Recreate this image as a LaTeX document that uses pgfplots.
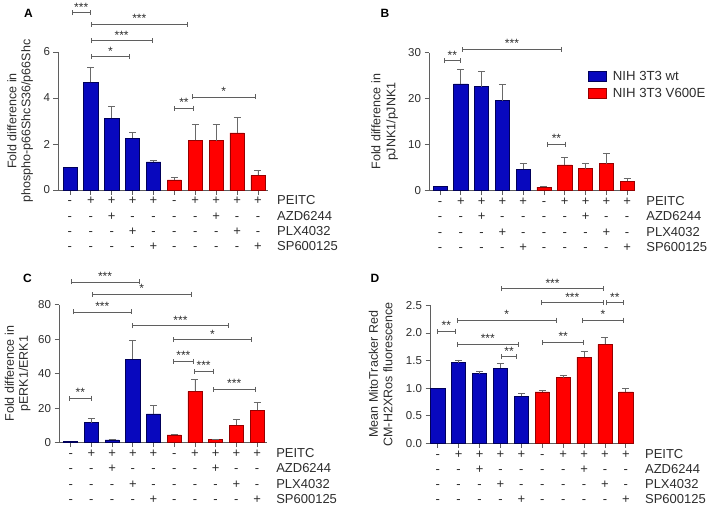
\documentclass[border=0pt]{standalone}
\usepackage{pgfplots}
\pgfplotsset{compat=1.18}
\usepackage{fontspec}
\setmainfont{Liberation Sans}
\usetikzlibrary{arrows.meta}
\definecolor{cblue}{RGB}{8,8,190}
\definecolor{cbluedk}{RGB}{0,0,90}
\definecolor{cred}{RGB}{255,0,0}
\definecolor{creddk}{RGB}{150,0,0}
\definecolor{axgray}{RGB}{95,95,95}
\definecolor{txtgray}{RGB}{45,45,45}
\definecolor{ebgray}{RGB}{105,105,105}
\tikzset{
  brk/.style={axgray, line width=0.7pt, arrows={Bar[width=5pt]-Bar[width=5pt]}},
  star/.style={anchor=base, inner sep=0pt, yshift=1.5pt, font=\fontsize{12}{14}\selectfont, text=txtgray},
  sg/.style={anchor=north, inner sep=0pt, font=\fontsize{13}{15.2}\selectfont, text=txtgray},
}
\newcommand\br[4]{\draw[brk] (axis cs:#1,#3) -- node[star]{#4} (axis cs:#2,#3);}
\pgfplotsset{
  panel/.style={
    scale only axis, height=138pt, ymin=0, clip=false,
    axis lines=left, axis line style={-, axgray, line width=0.8pt},
    tick style={axgray, line width=0.8pt}, tick align=outside,
    major tick length=4.5pt,
    xtick={0,1,2,3,4,5,6,7,8,9}, xticklabels={},
    /pgf/number format/assume math mode=true,
    yticklabel style={font=\fontsize{11.5}{13}\selectfont, text=txtgray},
    ylabel style={align=center, inner sep=0pt, anchor=south, text=txtgray},
    after end axis/.code={
      \foreach \i/\sa/\sb/\sc/\sd in {0/-/-/-/-,1/+/-/-/-,2/+/+/-/-,3/+/-/+/-,4/+/-/-/+,5/-/-/-/-,6/+/-/-/-,7/+/+/-/-,8/+/-/+/-,9/+/-/-/+}{
        \node[sg] at ([yshift=-4.1pt]axis cs:\i,0) {\begin{tabular}{@{}c@{}}\sa\\\sb\\\sc\\\sd\end{tabular}};
      }
      \node[sg, anchor=north west] at ([xshift=19pt,yshift=-4.1pt]axis cs:9,0) {\begin{tabular}{@{}l@{}}PEITC\\AZD6244\\PLX4032\\SP600125\end{tabular}};
    },
  },
  bluebar/.style={ybar, bar width=0.68, bar shift=0pt, fill=cblue, draw=cbluedk, line width=0.6pt},
  redbar/.style={ybar, bar width=0.68, bar shift=0pt, fill=cred, draw=creddk, line width=0.6pt},
  eb/.style={error bars/.cd, y dir=plus, y explicit,
    error bar style={ebgray, line width=0.8pt},
    error mark options={rotate=90, mark size=3.5pt, ebgray, line width=0.8pt}},
}
\begin{document}
\begin{tikzpicture}[x=1pt,y=1pt]
\useasboundingbox (0,0) rectangle (709,504);
% ---------------- A ----------------
\begin{axis}[panel, at={(58pt,314pt)}, anchor=south west, width=210pt,
  xmin=-0.57, xmax=9.48, ymax=6, ytick={0,2,4,6},
  ylabel={Fold difference in\\phospho-p66ShcS36/p66Shc},
  ylabel style={at={(axis description cs:-0.118,0.5)}, font=\fontsize{12.5}{14}\selectfont}]
\addplot[bluebar] coordinates {(0,1.00)};
\addplot[bluebar, eb] table[x=x, y=y, y error=e] {
x y e
1 4.68 0.67
2 3.13 0.51
3 2.26 0.24
4 1.22 0.08
};
\addplot[redbar, eb] table[x=x, y=y, y error=e] {
x y e
5 0.44 0.11
6 2.16 0.69
7 2.14 0.71
8 2.48 0.68
9 0.64 0.21
};
\br{0.08}{1}{7.71}{***}
\br{1}{5.64}{7.2}{***}
\br{1}{3.95}{6.49}{***}
\br{1.02}{2.87}{5.8}{*}
\br{4.99}{5.93}{3.56}{**}
\br{5.82}{8.9}{4.05}{*}
\end{axis}
% ---------------- B ----------------
\begin{axis}[panel, at={(429pt,313.3pt)}, anchor=south west, width=205pt,
  xmin=-0.53, xmax=9.33, ymax=30, ytick={0,10,20,30},
  ylabel={Fold difference in\\pJNK1/pJNK1},
  ylabel style={at={(axis description cs:-0.151,0.5)}, font=\fontsize{12.5}{15}\selectfont}]
\addplot[bluebar] coordinates {(0,1.0)};
\addplot[bluebar, eb] table[x=x, y=y, y error=e] {
x y e
1 23.2 3.1
2 22.6 3.4
3 19.6 3.5
4 4.7 1.2
};
\addplot[redbar, eb] table[x=x, y=y, y error=e] {
x y e
5 0.8 0.15
6 5.6 1.7
7 4.8 1.1
8 5.9 2.3
9 2.0 0.6
};
\br{0.18}{1.01}{28.3}{**}
\br{1.07}{5.85}{30.7}{***}
\br{5.14}{6.06}{10.1}{**}
\end{axis}
% ---------------- C ----------------
\begin{axis}[panel, at={(59pt,61.3pt)}, anchor=south west, width=208pt,
  xmin=-0.565, xmax=9.48, ymax=80, ytick={0,20,40,60,80},
  ylabel={Fold difference in\\pERK1/ERK1},
  ylabel style={at={(axis description cs:-0.136,0.5)}, font=\fontsize{12.5}{14}\selectfont}]
\addplot[bluebar] coordinates {(0,1.0)};
\addplot[bluebar, eb] table[x=x, y=y, y error=e] {
x y e
1 11.6 2.5
2 1.6 0.5
3 48.4 10.7
4 16.7 4.8
};
\addplot[redbar, eb] table[x=x, y=y, y error=e] {
x y e
5 4.5 0.5
6 29.8 7.0
7 1.7 0.3
8 10.1 3.5
9 18.8 4.5
};
\br{0}{3.32}{93.2}{***}
\br{1.03}{5.82}{86.2}{*}
\br{0.1}{2.95}{75.8}{***}
\br{2.95}{7.65}{67.8}{***}
\br{4.94}{8.76}{59.7}{*}
\br{4.94}{5.94}{47.1}{***}
\br{5.94}{6.9}{41.3}{***}
\br{6.87}{8.92}{31.0}{***}
\br{-0.1}{1.03}{25.8}{**}
\end{axis}
% ---------------- D ----------------
\begin{axis}[panel, at={(430pt,60.7pt)}, anchor=south west, width=203pt,
  xmin=-0.37, xmax=9.34, ymax=2.5, ytick={0,0.5,1,1.5,2,2.5},
  yticklabel style={/pgf/number format/.cd, fixed, fixed zerofill, precision=1},
  ylabel={Mean MitoTracker Red\\CM-H2XRos fluorescence},
  ylabel style={at={(axis description cs:-0.184,0.5)}, font=\fontsize{12.5}{14.4}\selectfont}]
\addplot[bluebar] coordinates {(0,1.0)};
\addplot[bluebar, eb] table[x=x, y=y, y error=e] {
x y e
1 1.46 0.05
2 1.26 0.04
3 1.36 0.09
4 0.85 0.05
};
\addplot[redbar, eb] table[x=x, y=y, y error=e] {
x y e
5 0.93 0.02
6 1.19 0.04
7 1.56 0.10
8 1.79 0.13
9 0.93 0.07
};
\br{3.03}{7.95}{2.80}{***}
\br{4.92}{7.95}{2.55}{***}
\br{8.04}{8.9}{2.55}{**}
\br{0.91}{5.68}{2.23}{*}
\br{6.91}{8.9}{2.23}{*}
\br{-0.05}{0.88}{2.03}{**}
\br{0.94}{3.85}{1.79}{***}
\br{3.03}{3.8}{1.57}{**}
\br{5.0}{7.0}{1.83}{**}
\end{axis}
% ---------------- panel letters & legend ----------------
\node[font=\bfseries\fontsize{12}{14}\selectfont, text=black] at (28.5,490.5) {A};
\node[font=\bfseries\fontsize{12}{14}\selectfont, text=black] at (385,490.7) {B};
\node[font=\bfseries\fontsize{12}{14}\selectfont, text=black] at (27.5,226) {C};
\node[font=\bfseries\fontsize{12}{14}\selectfont, text=black] at (375,226) {D};
\filldraw[fill=cblue, draw=cbluedk, line width=0.6pt] (588.3,432.3) rectangle (606.7,422.3);
\filldraw[fill=cred, draw=creddk, line width=0.6pt] (588.3,415.7) rectangle (606.7,405.7);
\node[anchor=west, inner sep=0pt, font=\fontsize{13.2}{15}\selectfont, text=txtgray] at (612.7,427.8) {NIH 3T3 wt};
\node[anchor=west, inner sep=0pt, font=\fontsize{13.2}{15}\selectfont, text=txtgray] at (612.7,411) {NIH 3T3 V600E};
\end{tikzpicture}
\end{document}
